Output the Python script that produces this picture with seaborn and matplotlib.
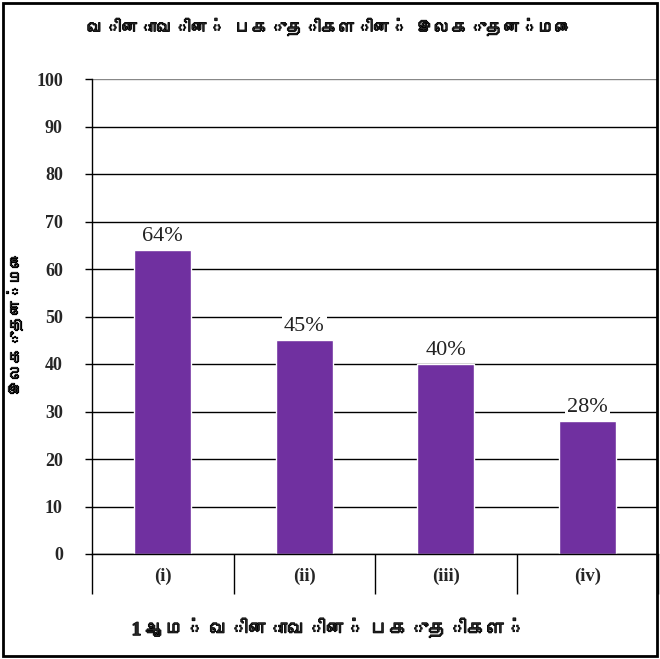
import matplotlib
matplotlib.use("Agg")
import matplotlib.pyplot as plt
import matplotlib.patheffects as pe
import seaborn as sns
import pandas as pd
from matplotlib import font_manager as fm
from matplotlib.ft2font import FT2Font
from matplotlib.patches import Rectangle

categories = ["(i)", "(ii)", "(iii)", "(iv)"]
values = [64, 45, 40, 28]
yticks = [0, 10, 20, 30, 40, 50, 60, 70, 80, 90, 100]
title = "வினாவின் பகுதிகளின் இலகுதன்மை"
ylabel = "இலகுதன்மை"
xlabel = "1 ஆம் வினாவின் பகுதிகள்"


def find_tamil_font():
    # look for any installed font that has Tamil glyphs
    for path in fm.findSystemFonts():
        try:
            font = FT2Font(path)
            if 0x0BB5 in font.get_charmap():
                fm.fontManager.addfont(path)
                return fm.FontProperties(fname=path).get_name()
        except Exception:
            continue
    return None


sns.set_theme(style="white")
plt.rcParams["font.family"] = ["Liberation Serif", "DejaVu Serif"]
tamil = find_tamil_font()
tamil_family = ([tamil] if tamil else []) + ["Liberation Sans", "DejaVu Sans"]
# the Tamil face has no bold, so thicken it with a stroke
heavy = [pe.withStroke(linewidth=0.9, foreground="black")]

df = pd.DataFrame({"part": categories, "value": values})

fig = plt.figure(figsize=(6.6, 6.59), dpi=100)
ax = fig.add_axes([92 / 660, 1 - 554 / 659, 566 / 660, 475 / 659])

sns.barplot(data=df, x="part", y="value", color="#7030A0", saturation=1,
            width=0.4, ax=ax, zorder=2)

ax.set_ylim(0, 100)
ax.set_xlim(-0.5, len(categories) - 0.5)
ax.set_yticks(yticks)
ax.set_yticklabels([str(t) for t in yticks], fontweight="bold", fontsize=13)
ax.yaxis.grid(True, color="black", linewidth=1)
ax.get_ygridlines()[-1].set_color("#888888")
ax.set_axisbelow(True)
ax.tick_params(axis="y", left=True, length=5, width=1, color="black", pad=16)

# category separators as long major ticks, labels on minor ticks
ax.set_xticks([i - 0.5 for i in range(len(categories) + 1)])
ax.set_xticklabels([])
ax.set_xticks(range(len(categories)), minor=True)
ax.set_xticklabels(categories, minor=True, fontweight="bold", fontsize=13.5)
ax.tick_params(axis="x", which="major", bottom=True, length=29, width=1,
               color="black", direction="out")
ax.tick_params(axis="x", which="minor", bottom=False, length=0, pad=10)

for side in ["top", "right"]:
    ax.spines[side].set_visible(False)
ax.spines["left"].set_color("black")
ax.spines["bottom"].set_color("black")
ax.spines["left"].set_linewidth(1)
ax.spines["bottom"].set_linewidth(1)

ax.set_xlabel("")
ax.set_ylabel(ylabel, family=tamil_family, fontweight="bold", fontsize=11.5,
              path_effects=heavy)
ax.yaxis.set_label_coords(-0.124, 0.486)

for c in ax.containers:
    ax.bar_label(c, labels=[f"{v}%" for v in values], padding=3,
                 fontsize=16, color="#222222", family="Liberation Serif",
                 bbox=dict(facecolor="white", edgecolor="none", pad=1.5))

fig.text(330 / 660, 1 - 27 / 659, title, ha="center", va="center",
         family=tamil_family, fontweight="bold", fontsize=12.5, path_effects=heavy)
fig.text(329 / 660, 1 - 629 / 659, xlabel, ha="center", va="center",
         family=["Liberation Serif"] + tamil_family, fontweight="bold", fontsize=14,
         path_effects=heavy)

fig.patches.append(Rectangle((0.004, 0.004), 0.992, 0.992, transform=fig.transFigure,
                             fill=False, edgecolor="black", linewidth=2))

fig.savefig("out.png", dpi=100)
